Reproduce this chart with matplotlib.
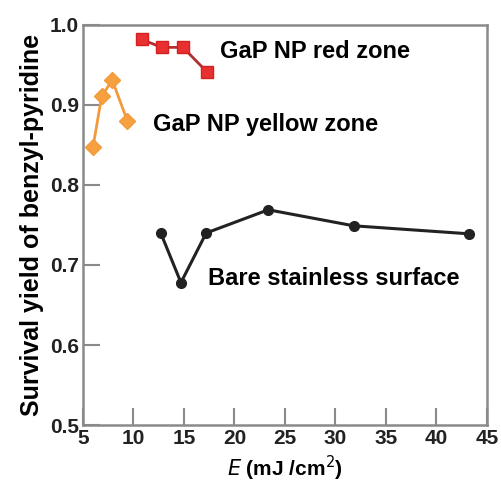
import matplotlib
matplotlib.use("Agg")
import matplotlib.pyplot as plt

plt.rcParams['font.family'] = ['Liberation Sans', 'DejaVu Sans']

yellow_x = [6.0, 6.85, 7.9, 9.4]
yellow_y = [0.848, 0.911, 0.931, 0.880]
red_x = [10.8, 12.8, 14.9, 17.3]
red_y = [0.982, 0.972, 0.972, 0.941]
bare_x = [12.7, 14.7, 17.2, 23.35, 31.8, 43.2]
bare_y = [0.740, 0.678, 0.740, 0.769, 0.749, 0.739]
xticks = [5, 10, 15, 20, 25, 30, 35, 40, 45]
yticks = [0.5, 0.6, 0.7, 0.8, 0.9, 1.0]

fig = plt.figure(figsize=(5.02, 4.86), dpi=100)
ax = fig.add_axes([0.1653, 0.1255, 0.8047, 0.8231])

ax.plot(yellow_x, yellow_y, color='#f39a3c', lw=2, marker='D', ms=8, mec='#f39a3c', mfc='#f7a040')
ax.plot(red_x, red_y, color='#b03030', lw=2, marker='s', ms=9, mec='#d62020', mfc='#e83030')
ax.plot(bare_x, bare_y, color='#222222', lw=2.2, marker='o', ms=7)

ax.text(18.55, 0.967, 'GaP NP red zone', fontsize=17, fontweight='bold', va='center', ha='left')
ax.text(11.9, 0.876, 'GaP NP yellow zone', fontsize=17, fontweight='bold', va='center', ha='left')
ax.text(17.4, 0.683, 'Bare stainless surface', fontsize=17, fontweight='bold', va='center', ha='left')

ax.set_xlim(5, 45)
ax.set_ylim(0.5, 1.0)
ax.set_xticks(xticks)
ax.set_yticks(yticks)
ax.set_xticklabels([str(t) for t in xticks])
ax.set_yticklabels(['%.1f' % t for t in yticks])
for s in ax.spines.values():
    s.set_color('#8a8a8a')
    s.set_linewidth(1.8)
ax.tick_params(direction='in', length=12, width=1.5, color='#8a8a8a', labelsize=15, pad=3)
for lab in ax.get_xticklabels() + ax.get_yticklabels():
    lab.set_fontweight('bold')
    lab.set_color('#222222')

ax.set_ylabel('Survival yield of benzyl-pyridine', fontsize=18, fontweight='bold', labelpad=4)
ax.set_xlabel(r'$\mathbf{\mathit{E}}$ (mJ /cm$^{2}$)', fontsize=15, fontweight='bold', labelpad=4)

fig.savefig('out.png', dpi=100)
